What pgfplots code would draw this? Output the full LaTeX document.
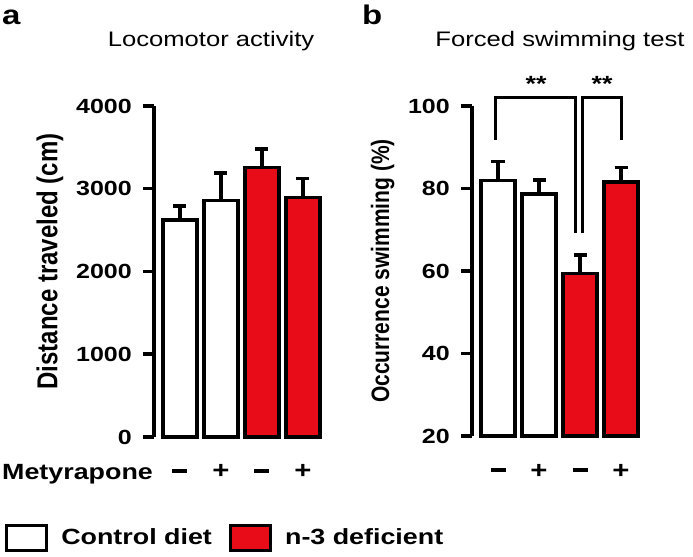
\documentclass[border=0pt]{standalone}
\usepackage{pgfplots}
\pgfplotsset{compat=1.18}
\usepackage{fontspec}
\usepackage{graphicx}
\setmainfont{Liberation Sans}[FakeStretch=1.22]
\newfontfamily\plainfont{Liberation Sans}
\definecolor{barred}{RGB}{232,12,24}
\newcommand{\mns}{\rule[5.5bp]{15bp}{4.5bp}}

\pgfplotsset{
 panel/.style={
  scale only axis, width=173.6bp,
  xmin=0.366, xmax=4.6,
  axis lines*=left,
  x axis line style={draw=none},
  xtick={1,2,3,4}, xticklabels={\mns,+,\mns,+},
  xtick style={draw=none},
  xticklabel style={font=\fontsize{24bp}{24bp}\selectfont\bfseries, anchor=base, yshift=-31bp},
  y axis line style={line width=4bp},
  ytick style={line width=3.5bp, black},
  major tick length=11bp, tick align=outside,
  yticklabel style={font=\fontsize{20.5bp}{20.5bp}\selectfont\bfseries, inner sep=0pt, xshift=-11bp},
  /pgf/number format/assume math mode=true,
  /pgf/number format/1000 sep={},
  every axis y label/.style={rotate=90, anchor=center},
  clip=false,
 },
 mybar/.style={ybar, bar width=34bp, bar shift=0pt, draw=black, line width=3.5bp, fill=#1,
   error bars/y dir=plus, error bars/y explicit,
   error bars/error mark=|,
   error bars/error bar style={line width=3.5bp, black},
   error bars/error mark options={mark size=6.5bp, line width=3.5bp, black}},
}

\begin{document}
\begin{tikzpicture}
\path[use as bounding box] (0,0) rectangle (693bp,557bp);

\begin{axis}[panel, at={(154bp,120bp)}, anchor=south west, height=331bp,
  ymin=0, ymax=4000, ytick={0,1000,2000,3000,4000},
  ylabel={\scalebox{1}[1.2]{Distance traveled (cm)}},
  ylabel style={at={(axis description cs:-0.6,0.53)}, font=\plainfont\fontsize{24bp}{24bp}\selectfont\bfseries},
  legend columns=2,
  legend style={draw=none, fill=none, at={(axis description cs:-0.858,-0.304)}, anchor=west,
    inner sep=0pt, outer sep=0pt,
    nodes={inner sep=0pt, font=\fontsize{22bp}{22bp}\selectfont\bfseries},
    /tikz/every even column/.append style={column sep=17bp}},
  legend image code/.code={\draw[#1, line width=3bp] (0bp,-12.5bp) rectangle (40bp,12.5bp); \path (53bp,0bp);},
]
\addplot[mybar=white] coordinates {(1,2620) +- (0,172) (2,2860) +- (0,330)};
\addlegendentry{Control diet}
\addplot[mybar=barred] coordinates {(3,3255) +- (0,225) (4,2893) +- (0,229)};
\addlegendentry{n-3 deficient}
\end{axis}

\begin{axis}[panel, at={(472bp,121bp)}, anchor=south west, height=330bp,
  y coord trafo/.code={\pgfmathparse{#1-20}},
  y coord inv trafo/.code={\pgfmathparse{#1+20}},
  ymin=20, ymax=100, ytick={20,40,60,80,100},
  ylabel={\scalebox{1}[1.2]{Occurrence swimming (\%)}},
  ylabel style={at={(axis description cs:-0.515,0.5)}, font=\plainfont\fontsize{21bp}{21bp}\selectfont\bfseries},
]
\addplot[mybar=white] coordinates {(1,82.0) +- (0,4.6) (2,78.7) +- (0,3.4)};
\addplot[mybar=barred] coordinates {(3,59.4) +- (0,4.5) (4,81.6) +- (0,3.5)};
\addplot[black, line width=3bp, mark=none, forget plot] coordinates {(0.95,91.75) (0.95,102.1) (2.88,102.1) (2.88,69.2)};
\addplot[black, line width=3bp, mark=none, forget plot] coordinates {(3.07,69.2) (3.07,102.1) (4.02,102.1) (4.02,91.75)};
\node[font=\fontsize{22bp}{22bp}\selectfont\bfseries] at (axis cs:1.93,105.3) {**};
\node[font=\fontsize{22bp}{22bp}\selectfont\bfseries] at (axis cs:3.54,105.3) {**};
\end{axis}

\node[anchor=base west, inner sep=0pt, font=\fontsize{27bp}{27bp}\selectfont\bfseries] at (2bp,532bp) {a};
\node[anchor=base west, inner sep=0pt, font=\fontsize{27bp}{27bp}\selectfont\bfseries] at (362bp,532bp) {b};
\node[anchor=base, inner sep=0pt, font=\fontsize{21bp}{21bp}\selectfont] at (211bp,510bp) {Locomotor activity};
\node[anchor=base, inner sep=0pt, font=\fontsize{21bp}{21bp}\selectfont] at (560bp,510bp) {Forced swimming test};
\node[anchor=base west, inner sep=0pt, font=\fontsize{22bp}{22bp}\selectfont\bfseries] at (2bp,77bp) {Metyrapone};
\end{tikzpicture}
\end{document}
